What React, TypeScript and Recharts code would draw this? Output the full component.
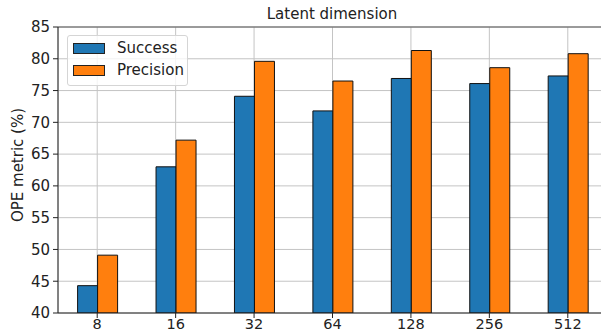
import React from 'react';
import { BarChart, Bar, XAxis, YAxis, CartesianGrid, ReferenceLine } from 'recharts';

const dims = ['8', '16', '32', '64', '128', '256', '512'];
const success = [44.3, 63.0, 74.1, 71.8, 76.9, 76.1, 77.3];
const precision = [49.1, 67.2, 79.6, 76.5, 81.3, 78.6, 80.8];
const yTicks = [40, 45, 50, 55, 60, 65, 70, 75, 80, 85];

const FONT = '"DejaVu Sans", sans-serif';
const BLUE = '#1f77b4';
const ORANGE = '#ff7f0e';

// legend drawn like the matplotlib box in the upper left
function LegendBox() {
  const items = [
    { name: 'Success', color: BLUE },
    { name: 'Precision', color: ORANGE },
  ];
  return (
    <div
      style={{
        position: 'absolute',
        left: 67,
        top: 35,
        background: 'rgba(255,255,255,0.8)',
        border: '1px solid #d5d5d5',
        borderRadius: 3,
        padding: '1px 0 0 5px',
        width: 121,
        height: 51,
        boxSizing: 'border-box',
        fontFamily: FONT,
        fontSize: 15,
        color: '#222',
      }}
    >
      {items.map((it) => (
        <div key={it.name} style={{ display: 'flex', alignItems: 'center', height: 22 }}>
          <span
            style={{
              display: 'inline-block',
              width: 32,
              height: 11,
              background: it.color,
              border: '1px solid #222',
              boxSizing: 'border-box',
              marginRight: 12,
            }}
          />
          <span>{it.name}</span>
        </div>
      ))}
    </div>
  );
}

export default function App() {
  const data = dims.map((d, i) => ({ dim: d, success: success[i], precision: precision[i] }));

  return (
    <div style={{ position: 'absolute', left: 0, top: 0, width: 601, height: 333, overflow: 'hidden', background: '#fff' }}>
      <BarChart
        width={612}
        height={333}
        data={data}
        margin={{ top: 27, right: 5, left: 10, bottom: 0 }}
        barCategoryGap="25%"
        barGap={0}
      >
        <CartesianGrid stroke="#c4c4c4" strokeWidth={1} />
        <XAxis
          dataKey="dim"
          height={20}
          tickSize={5}
          tickMargin={1}
          axisLine={{ stroke: '#222' }}
          tickLine={{ stroke: '#222' }}
          tick={{ fill: '#222', fontFamily: FONT, fontSize: 14.5 }}
        />
        <YAxis
          domain={[40, 85]}
          ticks={yTicks}
          width={48}
          allowDataOverflow
          tickSize={5}
          tickMargin={3}
          axisLine={{ stroke: '#222' }}
          tickLine={{ stroke: '#222' }}
          tick={{ fill: '#222', fontFamily: FONT, fontSize: 15 }}
        />
        <ReferenceLine y={85} stroke="#555" strokeWidth={1} />
        <Bar dataKey="success" name="Success" fill={BLUE} stroke="#111" strokeWidth={1} isAnimationActive={false} />
        <Bar dataKey="precision" name="Precision" fill={ORANGE} stroke="#111" strokeWidth={1} isAnimationActive={false} />
      </BarChart>
      <LegendBox />
      <div
        style={{
          position: 'absolute',
          left: 232,
          width: 200,
          top: 7,
          textAlign: 'center',
          fontFamily: FONT,
          fontSize: 15,
          lineHeight: '15px',
          color: '#222',
        }}
      >
        Latent dimension
      </div>
      <div
        style={{
          position: 'absolute',
          left: 18,
          top: 165,
          transform: 'translate(-50%, -50%) rotate(-90deg)',
          whiteSpace: 'nowrap',
          fontFamily: FONT,
          fontSize: 15,
          lineHeight: '15px',
          color: '#222',
        }}
      >
        OPE metric (%)
      </div>
    </div>
  );
}
